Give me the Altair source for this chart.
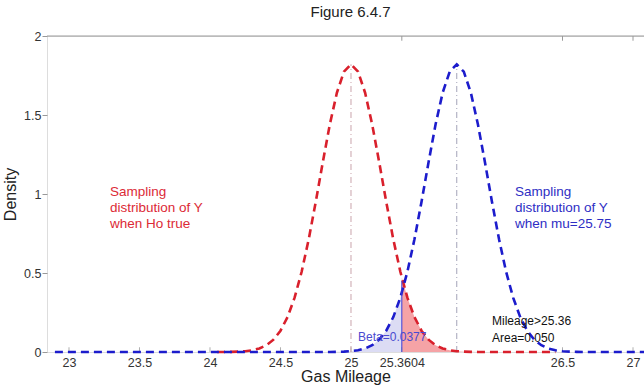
import altair as alt
import pandas as pd

# Density of the sampling distribution of Y, read at offsets from its centre
offsets = [-0.90, -0.85, -0.80, -0.75, -0.70, -0.65, -0.60, -0.55, -0.50, -0.45,
           -0.40, -0.35, -0.30, -0.25, -0.20, -0.15, -0.10, -0.05, 0.00,
           0.05, 0.10, 0.15, 0.20, 0.25, 0.30, 0.35, 0.40, 0.45, 0.50,
           0.55, 0.60, 0.65, 0.70, 0.75, 0.80, 0.85, 0.90]
density = [0.0004, 0.0010, 0.0023, 0.0052, 0.0111, 0.0223, 0.0428, 0.0780, 0.1347, 0.221,
           0.344, 0.508, 0.713, 0.950, 1.201, 1.441, 1.641, 1.774, 1.821,
           1.774, 1.641, 1.441, 1.201, 0.950, 0.713, 0.508, 0.344, 0.221, 0.1347,
           0.0780, 0.0428, 0.0223, 0.0111, 0.0052, 0.0023, 0.0010, 0.0004]

mu0 = 25.0          # Ho true
mu1 = 25.75         # alternative mean
cutoff = 25.3604    # rejection boundary
red_at_cut = 0.471  # Ho density at the cutoff
blue_at_cut = 0.375 # alternative density at the cutoff
red_span = [24.05, 26.45]
blue_span = [22.9, 27.1]

x_ticks = [23, 23.5, 24, 24.5, 25, 25.3604, 26.5, 27]
top_ticks = [25.3604, 26.5, 27]
y_ticks = [0, 0.5, 1, 1.5, 2]

X_DOMAIN = [22.844, 27.078]
W, H = 597, 316
FONT = "Liberation Sans"
RED = "#d9202c"
BLUE = "#1c1ccc"


def curve(center, span):
    xs = [span[0]] + [center + o for o in offsets] + [span[1]]
    ys = [0.0] + density + [0.0]
    return pd.DataFrame({"x": xs, "y": ys})


red_df = curve(mu0, red_span)
blue_df = curve(mu1, blue_span)

red_fill = pd.concat([pd.DataFrame({"x": [cutoff], "y": [red_at_cut]}),
                      red_df[(red_df.x > cutoff) & (red_df.x <= 25.95)]])
blue_fill = pd.concat([blue_df[(blue_df.x < cutoff) & (blue_df.x >= 24.8)],
                       pd.DataFrame({"x": [cutoff], "y": [blue_at_cut]})])

xs = alt.Scale(domain=X_DOMAIN, nice=False, zero=False)
ys = alt.Scale(domain=[0, 2], nice=False)

x_axis = alt.Axis(values=x_ticks, labelExpr="'' + datum.value", title="Gas Mileage",
                  domain=False, ticks=False, grid=False, labelFont=FONT, labelFontSize=12.5,
                  labelColor="#333333", labelPadding=4, titleFont=FONT, titleFontSize=16,
                  titleFontWeight="normal", titleColor="#222222", titlePadding=0,
                  labelFlush=False)
y_axis = alt.Axis(values=y_ticks, labelExpr="'' + datum.value", title="Density",
                  domain=False, grid=False, tickSize=5, tickColor="#999999",
                  labelFont=FONT, labelFontSize=12.5, labelColor="#333333", labelPadding=1,
                  titleFont=FONT, titleFontSize=16, titleFontWeight="normal",
                  titleColor="#222222", titlePadding=5)

X = lambda: alt.X("x:Q", scale=xs)
Y = lambda f="y:Q": alt.Y(f, scale=ys)

fill_red = alt.Chart(red_fill).mark_area(color="#f5a3a6", opacity=1).encode(
    x=alt.X("x:Q", scale=xs, axis=x_axis), y=alt.Y("y:Q", scale=ys, axis=y_axis))
fill_blue = alt.Chart(blue_fill).mark_area(color="#dcdcf4", opacity=1).encode(x=X(), y=Y())

peak = density[offsets.index(0.00)]
centre_red = alt.Chart(pd.DataFrame({"x": [mu0], "y0": [0.0], "y": [peak]})).mark_rule(
    strokeWidth=1, strokeDash=[6, 3, 1, 3], color="#c9a3ab").encode(x=X(), y=Y("y0:Q"), y2="y:Q")
centre_blue = alt.Chart(pd.DataFrame({"x": [mu1], "y0": [0.0], "y": [peak]})).mark_rule(
    strokeWidth=1, strokeDash=[6, 3, 1, 3], color="#a3a3b8").encode(x=X(), y=Y("y0:Q"), y2="y:Q")

red_line = alt.Chart(red_df).mark_line(color=RED, strokeWidth=2.6, strokeDash=[8, 5]).encode(
    x=X(), y=Y(), order="x:Q")
blue_line = alt.Chart(blue_df).mark_line(color=BLUE, strokeWidth=2.6, strokeDash=[8, 5]).encode(
    x=X(), y=Y(), order="x:Q")

cut_line = alt.Chart(pd.DataFrame({"x": [cutoff], "y0": [0.0], "y": [0.45]})).mark_rule(
    color="#3a3ad6", strokeWidth=1).encode(x=X(), y=Y("y0:Q"), y2="y:Q")

# box edge along the top, with short inward ticks top and bottom
frame_df = pd.DataFrame({"x": [X_DOMAIN[0]], "x2": [X_DOMAIN[1]], "y": [2.0]})
top_frame = alt.Chart(frame_df).mark_rule(color="#9a9a9a", strokeWidth=1).encode(
    x=X(), x2="x2:Q", y=Y())
top_tick_df = pd.DataFrame({"x": top_ticks, "y": [2.0] * 3, "y2": [1.97] * 3})
top_tick_marks = alt.Chart(top_tick_df).mark_rule(color="#9a9a9a", strokeWidth=1).encode(
    x=X(), y=Y(), y2="y2:Q")
bottom_tick_df = pd.DataFrame({"x": x_ticks, "y": [0.0] * len(x_ticks),
                               "y2": [0.03] * len(x_ticks)})
bottom_tick_marks = alt.Chart(bottom_tick_df).mark_rule(color="#b0b0b0", strokeWidth=1).encode(
    x=X(), y=Y(), y2="y2:Q")


def note(x, y, text, color, size, line_height):
    df = pd.DataFrame({"x": [x], "y": [y], "t": [text]})
    return alt.Chart(df).mark_text(align="left", baseline="top", font=FONT, fontSize=size,
                                   lineHeight=line_height, lineBreak="\n", color=color).encode(
        x=X(), y=Y(), text="t:N")


red_note = note(23.29, 1.055, "Sampling\ndistribution of Y\nwhen Ho true", "#dc2a36", 13.5, 16)
blue_note = note(26.163, 1.055, "Sampling\ndistribution of Y\nwhen mu=25.75", "#2e2ec4", 13.5, 16)
beta_note = note(25.05, 0.125, "Beta=0.0377", "#4a4ad0", 12, 14)
area_note = note(26.0, 0.225, "Mileage>25.36\nArea=0.050", "#111111", 12, 17)

chart = alt.layer(
    fill_red, fill_blue, bottom_tick_marks, centre_red, centre_blue, red_line, blue_line,
    cut_line, top_frame, top_tick_marks, red_note, blue_note, beta_note, area_note,
).properties(
    width=W, height=H,
    title=alt.Title("Figure 6.4.7", font=FONT, fontSize=15, fontWeight="normal",
                    color="#222222", anchor="middle", offset=10, dx=5),
    padding={"left": 47, "top": 36, "right": 0, "bottom": 33},
    autosize=alt.AutoSizeParams(type="none"),
).configure_view(stroke=None).configure(background="white")

chart.save("out.html", embed_options={"renderer": "svg", "actions": False})
